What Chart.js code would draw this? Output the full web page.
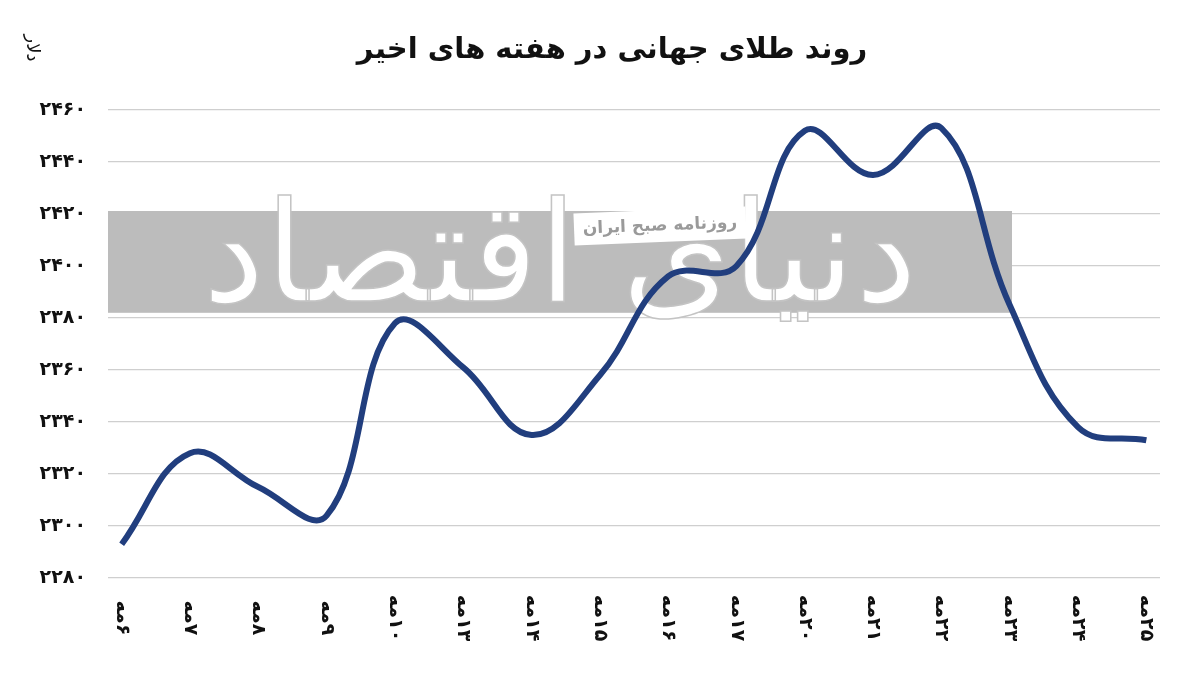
<!DOCTYPE html>
<html>
<head>
<meta charset="utf-8">
<script src="https://cdn.jsdelivr.net/npm/chart.js@4"></script>
<style>
  html, body { margin: 0; padding: 0; background: #fff; }
  #wrap { width: 1200px; height: 692px; position: relative; }
</style>
</head>
<body>
<div id="wrap"><canvas id="chartTala"></canvas></div>
<script>
// روزهای ماه مه
const days = [6, 7, 8, 9, 10, 13, 14, 15, 16, 17, 20, 21, 22, 23, 24, 25];
// قیمت طلا (دلار)
const prices = [2293, 2328, 2315, 2304, 2378, 2361, 2335, 2358, 2396, 2400, 2452, 2435, 2453, 2385, 2338, 2333];
const yTicks = [2280, 2300, 2320, 2340, 2360, 2380, 2400, 2420, 2440, 2460];

const title = "روند طلای جهانی در هفته های اخیر";
const unit = "دلار";
const font = "'DejaVu Sans', 'Noto Sans', sans-serif";

function faNum(n) {
  return String(n).replace(/[0-9]/g, (d) => "۰۱۲۳۴۵۶۷۸۹"[d]);
}
const labels = days.map((d) => faNum(d) + "مه");

// پس زمینه و واترمارک
const backdrop = {
  id: "backdrop",
  beforeDatasetsDraw(chart) {
    const ctx = chart.ctx;
    const y = chart.scales.y;
    ctx.save();
    ctx.fillStyle = "#bcbcbc";
    ctx.fillRect(108, y.getPixelForValue(2420) - 3, 904, y.getPixelForValue(2382) - y.getPixelForValue(2420) + 3);
    // نوشته بزرگ
    ctx.font = "140px " + font;
    ctx.direction = "rtl";
    ctx.textAlign = "center";
    ctx.textBaseline = "middle";
    ctx.lineWidth = 1.5;
    ctx.strokeStyle = "#c4c4c4";
    ctx.fillStyle = "#ffffff";
    ctx.fillText("دنیای اقتصاد", 560, 265);
    ctx.strokeText("دنیای اقتصاد", 560, 265);
    // برچسب روزنامه
    ctx.save();
    ctx.translate(660, 226);
    ctx.rotate(-0.04);
    ctx.fillStyle = "#ffffff";
    ctx.fillRect(-86, -16, 172, 32);
    ctx.fillStyle = "#9a9a9a";
    ctx.font = "bold 17px " + font;
    ctx.fillText("روزنامه صبح ایران", 0, 0);
    ctx.restore();
    ctx.restore();
  },
  afterDraw(chart) {
    const ctx = chart.ctx;
    const x = chart.scales.x;
    ctx.save();
    ctx.fillStyle = "#111";
    ctx.direction = "rtl";
    ctx.font = "bold 29px " + font;
    ctx.textAlign = "center";
    ctx.textBaseline = "middle";
    ctx.fillText(title, 612, 50);
    labels.forEach((lab, i) => {
      ctx.save();
      ctx.translate(x.getPixelForValue(i), 618);
      ctx.rotate(Math.PI / 2);
      ctx.font = "bold 19px " + font;
      ctx.fillText(lab, 0, 0);
      ctx.restore();
    });
    ctx.save();
    ctx.translate(32, 48);
    ctx.rotate(Math.PI / 2);
    ctx.font = "18px " + font;
    ctx.fillText(unit, 0, 0);
    ctx.restore();
    ctx.restore();
  },
};

const ctx = document.getElementById("chartTala").getContext("2d");
new Chart(ctx, {
  type: "line",
  data: {
    datasets: [{
      data: prices.map((p, i) => ({ x: i, y: p })),
      borderColor: "#213e7e",
      borderWidth: 6,
      tension: 0.4,
      pointRadius: 0,
      fill: false,
    }],
  },
  options: {
    responsive: true,
    maintainAspectRatio: false,
    animation: false,
    layout: { padding: { top: 110, right: 40, bottom: 0, left: 0 } },
    plugins: { legend: { display: false }, tooltip: { enabled: false } },
    scales: {
      x: {
        type: "linear",
        min: -0.2,
        max: 15.2,
        grid: { display: false },
        border: { display: false },
        ticks: { display: false },
        afterFit: (s) => { s.height = 114; },
      },
      y: {
        min: 2280,
        max: 2460,
        afterBuildTicks: (s) => { s.ticks = yTicks.map((v) => ({ value: v })); },
        grid: { color: "#cfcfcf", lineWidth: 1.2, drawTicks: false },
        border: { display: false },
        ticks: {
          padding: 22,
          color: "#111",
          font: { family: font, size: 19, weight: "bold" },
          callback: (v) => faNum(v),
        },
        afterFit: (s) => { s.width = 108; },
      },
    },
  },
  plugins: [backdrop],
});
</script>
</body>
</html>
